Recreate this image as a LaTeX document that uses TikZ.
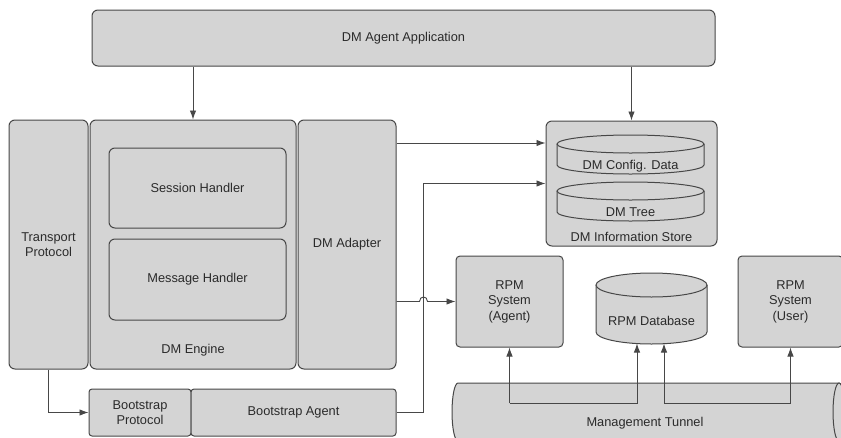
\documentclass[tikz,border=0pt]{standalone}
\usepackage{fontspec}
\setmainfont{Liberation Sans}
\usetikzlibrary{arrows.meta}

\definecolor{boxfill}{HTML}{D4D4D4}
\definecolor{edge}{HTML}{474747}
\definecolor{ink}{HTML}{2A2A2A}

\tikzset{
  blk/.style={draw=edge, fill=boxfill, line width=1pt, rounded corners=6pt,
    align=center, inner sep=0pt, text=ink},
  cyl/.style={draw=edge, fill=boxfill, line width=1pt},
  lbl/.style={text=ink, align=center, inner sep=1pt},
  link/.style={draw=edge, line width=0.9pt, -{Latex[length=9pt,width=6.5pt]}}
}

\begin{document}
\begin{tikzpicture}[x=1pt, y=1pt, font=\fontsize{12.8}{15.5}\selectfont]
\useasboundingbox (0,0) rectangle (841,-437);

\node[blk, minimum width=623pt, minimum height=56pt] (app) at (403.5,-38) {DM Agent Application};

\node[blk, minimum width=79pt, minimum height=249pt] (trans) at (48.5,-244.5) {Transport\\Protocol};
\node[blk, minimum width=206pt, minimum height=249pt] (engine) at (193,-244.5) {};
\node[lbl] (englbl) at (193,-350) {DM Engine};
\node[blk, minimum width=177pt, minimum height=80pt] (session) at (197.5,-188) {Session Handler};
\node[blk, minimum width=177pt, minimum height=81pt] (message) at (197.5,-279.5) {Message Handler};
\node[blk, minimum width=98pt, minimum height=249pt] (adapter) at (347,-244.5) {DM Adapter};

\node[blk, rounded corners=3pt, minimum width=102pt, minimum height=47pt] (bproto) at (140,-412.5) {Bootstrap\\Protocol};
\node[blk, rounded corners=3pt, minimum width=205pt, minimum height=47pt] (bagent) at (293.5,-412.5) {Bootstrap Agent};

\node[blk, minimum width=171pt, minimum height=125pt] (store) at (631.5,-183.5) {};
\node[lbl] (storelbl) at (631.5,-237) {DM Information Store};

\filldraw[cyl] (557,-144) -- (557,-165) arc[start angle=180, end angle=360, x radius=73.5, y radius=9] -- (704,-144);
\filldraw[cyl] (630.5,-144) ellipse[x radius=73.5, y radius=9];
\node[lbl] (config) at (630.5,-166) {DM Config. Data};

\filldraw[cyl] (557,-191) -- (557,-212) arc[start angle=180, end angle=360, x radius=73.5, y radius=9] -- (704,-191);
\filldraw[cyl] (630.5,-191) ellipse[x radius=73.5, y radius=9];
\node[lbl] (tree) at (630.5,-212) {DM Tree};

\node[blk, rounded corners=4pt, minimum width=107pt, minimum height=91pt] (rpma) at (509.5,-301.5) {RPM\\System\\(Agent)};

\filldraw[cyl] (596,-285) -- (596,-332) arc[start angle=180, end angle=360, x radius=55.5, y radius=12] -- (707,-285);
\filldraw[cyl] (651.5,-285) ellipse[x radius=55.5, y radius=12];
\node[lbl] (rpmdb) at (651.5,-321) {RPM Database};

\node[blk, rounded corners=4pt, minimum width=105pt, minimum height=91pt] (rpmu) at (790.5,-301.5) {RPM\\System\\(User)};

\filldraw[cyl] (458,-383) -- (839,-383) arc[start angle=90, end angle=-90, x radius=6, y radius=29]
  -- (458,-441) arc[start angle=270, end angle=90, x radius=6, y radius=29] -- cycle;
\filldraw[cyl] (839,-412) ellipse[x radius=6, y radius=29];
\node[lbl] (tunnel) at (645,-423) {Management Tunnel};

\coordinate (bus) at (648,-403);
\coordinate (dbinl) at (637,-343.5);
\coordinate (dbinr) at (664,-343.5);

\draw[link] (app.south -| engine.north) -- (engine.north);
\draw[link] (app.south -| store.north) -- (store.north);
\draw[link] (trans.south) |- (bproto.west);
\draw[link] (adapter.east |- 0,-143) -- (store.west |- 0,-143);
\draw[link] (bagent.east) -- ++(27,0) |- (store.west);
\draw[link] (adapter.east |- rpma.west) -- ++(23,0) .. controls +(0,6) and +(0,6) .. ++(8,0) -- (rpma.west);
\draw[link] (rpma.south |- bus) -- (rpma.south);
\draw[link] (rpma.south |- bus) -| (dbinl);
\draw[link] (dbinr |- bus) -- (dbinr);
\draw[link] (dbinr |- bus) -| (rpmu.south);
\end{tikzpicture}
\end{document}
